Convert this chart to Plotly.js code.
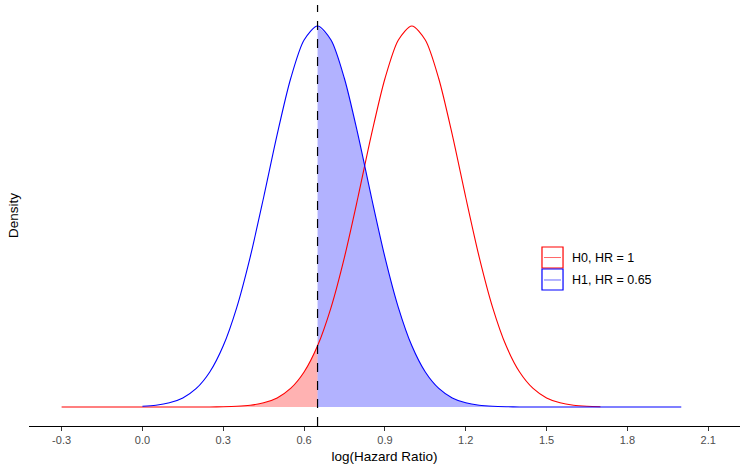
<!DOCTYPE html>
<html>
<head>
<meta charset="utf-8">
<script src="https://cdn.plot.ly/plotly-3.0.1.min.js"></script>
<style>html,body{margin:0;padding:0;background:#fff;}#chart{width:748px;height:472px;}</style>
</head>
<body>
<div id="chart"></div>
<script>
// x grid for log(HR)
var xs = [-0.30,-0.25,-0.20,-0.15,-0.10,-0.05,0.00,0.05,0.10,0.15,0.20,0.25,0.30,0.35,0.40,0.45,0.50,0.55,0.60,0.65,0.70,0.75,0.80,0.85,0.90,0.95,1.00,1.05,1.10,1.15,1.20,1.25,1.30,1.35,1.40,1.45,1.50,1.55,1.60,1.65,1.70,1.75,1.80,1.85,1.90,1.95,2.00];
// H0 density (HR = 1)
var h0 = [0,0,0,0,0,0,0,0,0,0,0,0,0.0014,0.004,0.010,0.024,0.052,0.106,0.200,0.350,0.569,0.858,1.200,1.558,1.878,2.100,2.180,2.100,1.878,1.558,1.200,0.858,0.569,0.350,0.200,0.106,0.052,0.024,0.010,0.004,0.0014,null,null,null,null,null,null];
// H1 density (HR = 0.65)
var h1 = [null,null,null,null,null,null,0.004,0.010,0.024,0.052,0.106,0.200,0.350,0.569,0.858,1.200,1.558,1.878,2.100,2.180,2.100,1.878,1.558,1.200,0.858,0.569,0.350,0.200,0.106,0.052,0.024,0.010,0.004,0.0014,0,0,0,0,0,0,0,0,0,0,0,0,0];
var critical = 0.65;
var tickVals = [-0.3,0.0,0.3,0.6,0.9,1.2,1.5,1.8,2.1];
var tickText = ["-0.3","0.0","0.3","0.6","0.9","1.2","1.5","1.8","2.1"];
var seriesNames = ["H0, HR = 1", "H1, HR = 0.65"];

var redFx=[],redFy=[],blueFx=[],blueFy=[];
for (var i=0;i<xs.length;i++){
  if (xs[i] <= critical + 1e-9 && h0[i]!==null){ redFx.push(xs[i]); redFy.push(h0[i]); }
  if (xs[i] >= critical - 1e-9 && h1[i]!==null){ blueFx.push(xs[i]); blueFy.push(h1[i]); }
}
function spl(o){ o.shape='spline'; o.smoothing=0.8; return o; }
var traces = [
  {x:redFx, y:redFy, type:'scatter', mode:'lines', fill:'tozeroy', fillcolor:'rgba(255,0,0,0.3)', line:spl({width:0}), hoverinfo:'skip', showlegend:false},
  {x:blueFx, y:blueFy, type:'scatter', mode:'lines', fill:'tozeroy', fillcolor:'rgba(0,0,255,0.3)', line:spl({width:0}), hoverinfo:'skip', showlegend:false},
  {x:xs, y:h0, type:'scatter', mode:'lines', name:seriesNames[0], line:spl({color:'#FF0000', width:1.1}), connectgaps:false, showlegend:false},
  {x:xs, y:h1, type:'scatter', mode:'lines', name:seriesNames[1], line:spl({color:'#0000FF', width:1.1}), connectgaps:false, showlegend:false}
];

var layout = {
  width:748, height:472,
  margin:{l:29, r:8, t:5, b:46},
  paper_bgcolor:'#fff', plot_bgcolor:'#fff',
  font:{family:'Liberation Sans, Arial, sans-serif', color:'#000'},
  xaxis:{
    range:[-0.421, 2.218], showgrid:false, zeroline:false,
    showline:true, linecolor:'#000', linewidth:1.2,
    ticks:'outside', ticklen:4, tickcolor:'#333', tickwidth:1,
    tickvals:tickVals, ticktext:tickText,
    tickfont:{size:11, color:'#4d4d4d'},
    title:{text:'log(Hazard Ratio)', font:{size:13.5, color:'#000'}, standoff:6},
    automargin:false
  },
  yaxis:{
    range:[-0.1088, 2.300], showgrid:false, zeroline:false, showline:false,
    showticklabels:false, ticks:'',
    title:{text:'Density', font:{size:13.5, color:'#000'}, standoff:6},
    automargin:false
  },
  showlegend:false,
  shapes:[
    {type:'line', xref:'x', yref:'paper', x0:critical, x1:critical, y0:0, y1:1, line:{color:'#000', width:1.2, dash:'dash'}, layer:'above'},
    {type:'rect', xref:'paper', yref:'paper', x0:0.7215, x1:0.7511, y0:0.3753, y1:0.4252, line:{color:'#FF0000', width:1.2}},
    {type:'line', xref:'paper', yref:'paper', x0:0.7243, x1:0.7482, y0:0.4002, y1:0.4002, line:{color:'rgba(255,0,0,0.6)', width:1}},
    {type:'rect', xref:'paper', yref:'paper', x0:0.7215, x1:0.7511, y0:0.3230, y1:0.3729, line:{color:'#0000FF', width:1.2}},
    {type:'line', xref:'paper', yref:'paper', x0:0.7243, x1:0.7482, y0:0.3468, y1:0.3468, line:{color:'rgba(0,0,255,0.6)', width:1}}
  ],
  annotations:[
    {xref:'paper', yref:'paper', x:0.7605, y:0.4002, xanchor:'left', yanchor:'middle', text:seriesNames[0], showarrow:false, font:{size:12.5, color:'#000'}},
    {xref:'paper', yref:'paper', x:0.7605, y:0.3468, xanchor:'left', yanchor:'middle', text:seriesNames[1], showarrow:false, font:{size:12.5, color:'#000'}}
  ]
};
Plotly.newPlot('chart', traces, layout, {staticPlot:true});
</script>
</body>
</html>
